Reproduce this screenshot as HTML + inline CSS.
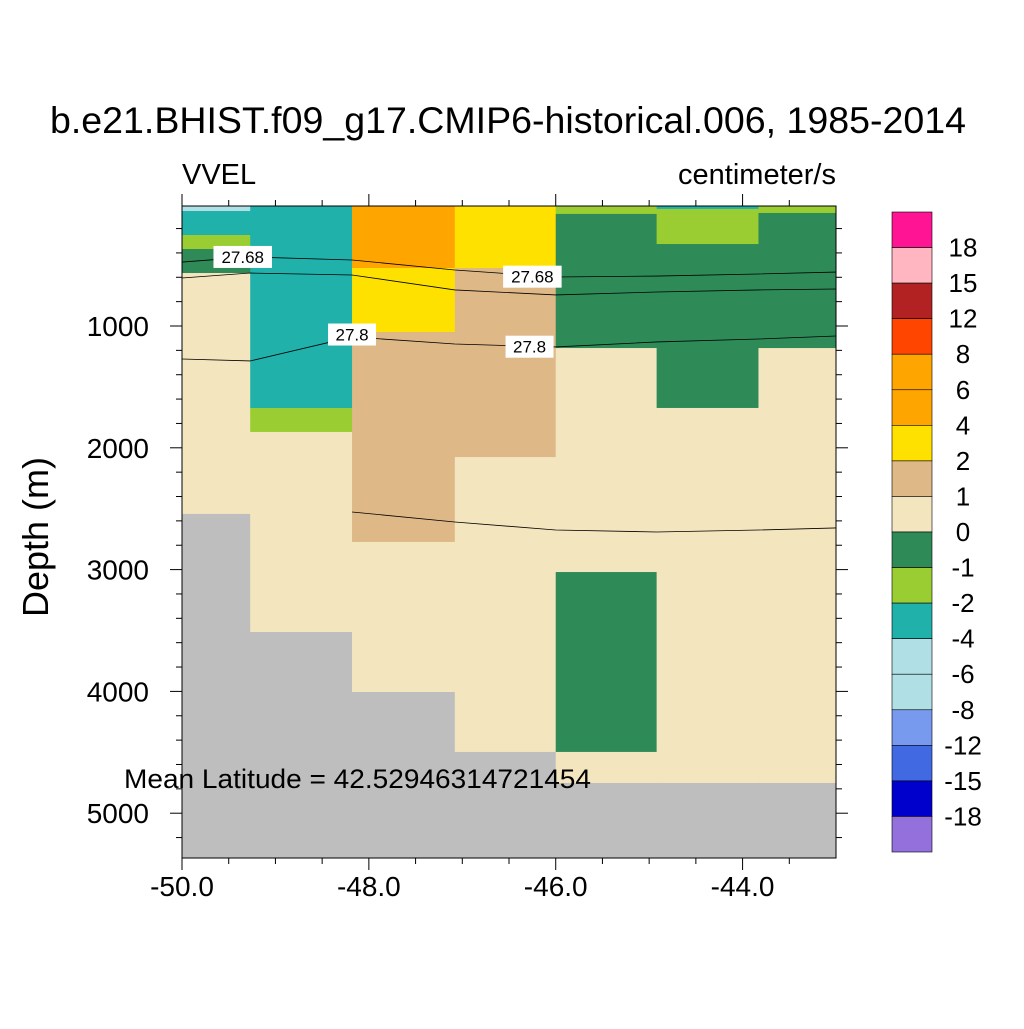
<!DOCTYPE html>
<html><head><meta charset="utf-8"><style>
body{margin:0;background:#fff}
svg text{font-family:"Liberation Sans",sans-serif}
</style></head><body>
<svg id="c" width="1024" height="1024" viewBox="0 0 1024 1024" xmlns="http://www.w3.org/2000/svg">
<text x="508" y="133" font-size="37" text-anchor="middle" textLength="916" lengthAdjust="spacingAndGlyphs">b.e21.BHIST.f09_g17.CMIP6-historical.006, 1985-2014</text>
<text x="182" y="184" font-size="29">VVEL</text>
<text x="836" y="184" font-size="29" text-anchor="end">centimeter/s</text>
<text transform="translate(48,537) rotate(-90)" font-size="36" text-anchor="middle">Depth (m)</text>
<g id="cells"></g><g id="lines"></g><g id="axes"></g><g id="cbar"></g>
<text x="124" y="788" font-size="27" textLength="467" lengthAdjust="spacingAndGlyphs">Mean Latitude = 42.52946314721454</text>
</svg>
<script>
const NS="http://www.w3.org/2000/svg";
const lonEdges=[-50,-49.27,-48.18,-47.08,-46.0,-44.92,-43.83,-43.0];
const colCells=[
 [[15,56,"pb"],[56,253,"tl"],[253,368,"yg"],[368,565,"sg"],[565,2543,"wh"],[2543,5368,"gy"]],
 [[15,1673,"tl"],[1673,1870,"yg"],[1870,3512,"wh"],[3512,5368,"gy"]],
 [[15,524,"or"],[524,1049,"ye"],[1049,2773,"tn"],[2773,4005,"wh"],[4005,5368,"gy"]],
 [[15,524,"ye"],[524,2076,"tn"],[2076,4497,"wh"],[4497,5368,"gy"]],
 [[15,80,"yg"],[80,1181,"sg"],[1181,3020,"wh"],[3020,4497,"sg"],[4497,4752,"wh"],[4752,5368,"gy"]],
 [[15,39,"tl"],[39,327,"yg"],[327,1673,"sg"],[1673,4752,"wh"],[4752,5368,"gy"]],
 [[15,72,"yg"],[72,1181,"sg"],[1181,4752,"wh"],[4752,5368,"gy"]]
];
const palette={pb:"#b0e0e6",tl:"#20b2aa",yg:"#9acd32",sg:"#2e8b57",wh:"#f3e5be",gy:"#bebebe",or:"#ffa500",ye:"#ffe100",tn:"#deb887"};
const contour1=[475,433,458,540,598,590,573,557];
const contour2=[606,565,581,704,745,721,704,696];
const contour3=[1271,1287,1090,1148,1172,1131,1107,1082];
const contour4=[null,null,2527,2609,2675,2691,2675,2658];
const xTicks=[-50,-48,-46,-44];
const yTicks=[1000,2000,3000,4000,5000];
const cbColors=["#ff1493","#ffb6c1","#b22222","#ff4500","#ffa500","#ffa500","#ffe100","#deb887","#f3e5be","#2e8b57","#9acd32","#20b2aa","#b0e0e6","#b0e0e6","#7799ee","#4169e1","#0000cd","#9370db"];
const cbLabels=["18","15","12","8","6","4","2","1","0","-1","-2","-4","-6","-8","-12","-15","-18"];
const X0=182,X1=836,Y0=206,Y1=858;
const sx=v=>182+(v+50)*93.43;
const sy=d=>326+(d-1000)*0.1218;
function el(t,a,p){const e=document.createElementNS(NS,t);for(const k in a)e.setAttribute(k,a[k]);p.appendChild(e);return e;}
const gC=document.getElementById('cells');
colCells.forEach((cells,i)=>cells.forEach(c=>{
 const r=el('rect',{x:sx(lonEdges[i]),y:sy(c[0]),width:sx(lonEdges[i+1])-sx(lonEdges[i])+0.5,height:sy(c[1])-sy(c[0])+0.5,fill:palette[c[2]]},gC);
 
 
}));
const gL=document.getElementById('lines');
[contour1,contour2,contour3,contour4].forEach((arr,k)=>{
 const pts=[];arr.forEach((d,i)=>{if(d!==null)pts.push(sx(lonEdges[i])+','+sy(d));});
 const p=el('polyline',{points:pts.join(' '),fill:'none',stroke:'#000','stroke-width':0.8},gL);
 
 
});
[[-49.35,433,"27.68"],[-46.25,595,"27.68"],[-48.18,1070,"27.8"],[-46.28,1170,"27.8"]].forEach(l=>{
 const x=sx(l[0]),y=sy(l[1]);const w=l[2].length*10.5+6;
 const r=el('rect',{x:x-w/2,y:y-11,width:w,height:22,fill:'#fff'},gL);
 
 
 const t=el('text',{x:x,y:y+6,'font-size':17,'text-anchor':'middle'},gL);t.textContent=l[2];
 
 
});
const gA=document.getElementById('axes');
const fr=el('rect',{x:X0,y:Y0,width:X1-X0,height:Y1-Y0,fill:'none',stroke:'#000','stroke-width':1},gA);


for(let v=-50;v<=-43.001;v+=0.5){const x=sx(v);const maj=xTicks.some(t=>Math.abs(t-v)<1e-6);const L=maj?12:6;
 el('line',{x1:x,y1:Y1,x2:x,y2:Y1+L,stroke:'#000'},gA);el('line',{x1:x,y1:Y0,x2:x,y2:Y0-L,stroke:'#000'},gA);}
xTicks.forEach(v=>{const t=el('text',{x:sx(v),y:896,'font-size':28,'text-anchor':'middle'},gA);t.textContent=v.toFixed(1);
 
 });
for(let d=200;d<=5200;d+=200){const y=sy(d);if(y<Y0)continue;const maj=d%1000===0;const L=maj?12:6;
 el('line',{x1:X0,y1:y,x2:X0-L,y2:y,stroke:'#000'},gA);el('line',{x1:X1,y1:y,x2:X1+L,y2:y,stroke:'#000'},gA);}
yTicks.forEach(d=>{const t=el('text',{x:149,y:sy(d)+10,'font-size':28,'text-anchor':'end'},gA);t.textContent=d;
 
 });
const gB=document.getElementById('cbar');const bh=(852-212)/cbColors.length;
cbColors.forEach((c,i)=>{const r=el('rect',{x:892,y:212+i*bh,width:40,height:bh,fill:c,stroke:'#000','stroke-width':0.6},gB);
 
 });
cbLabels.forEach((s,i)=>{const t=el('text',{x:963,y:212+(i+1)*bh+9,'font-size':26,'text-anchor':'middle'},gB);t.textContent=s;
 
 });
</script>
</body></html>
